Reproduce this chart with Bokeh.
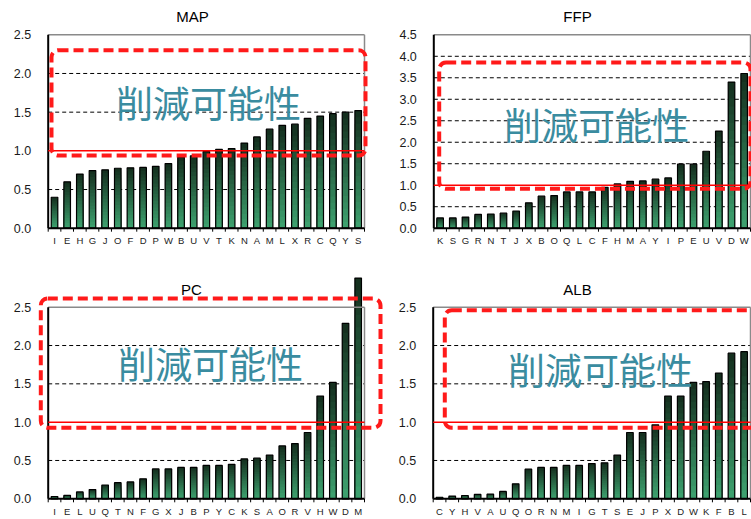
import numpy as np
from bokeh.plotting import figure
from bokeh.models import Range1d
from bokeh.core.properties import value
from bokeh.embed import file_html
from bokeh.resources import INLINE

# ---- data -------------------------------------------------------------
map_cats = list("IEHGJOFDPWBUVTKNAMLXRCQYS")
map_vals = [0.40, 0.60, 0.70, 0.745, 0.755, 0.775, 0.78, 0.785, 0.80, 0.835,
            0.92, 0.935, 0.99, 1.02, 1.03, 1.10, 1.18, 1.28, 1.33, 1.345,
            1.42, 1.45, 1.48, 1.50, 1.52]

ffp_cats = list("KSGRNTJXBOQLCFHMAYIPEUVDW")
ffp_vals = [0.24, 0.24, 0.26, 0.32, 0.33, 0.35, 0.40, 0.59, 0.745, 0.76,
            0.845, 0.845, 0.845, 0.95, 1.03, 1.09, 1.10, 1.14, 1.17, 1.49,
            1.49, 1.79, 2.26, 3.40, 3.60]

pc_cats = list("IELUQTNFGXJBPYCKSAORVHWDM")
pc_vals = [0.03, 0.045, 0.09, 0.12, 0.18, 0.21, 0.22, 0.26, 0.39, 0.39,
           0.41, 0.41, 0.435, 0.435, 0.45, 0.52, 0.53, 0.57, 0.69, 0.72,
           0.865, 1.34, 1.52, 2.29, 2.88]

alb_cats = list("CYHVAUQORNMIGTSEJPXDWKFBL")
alb_vals = [0.02, 0.035, 0.043, 0.057, 0.06, 0.096, 0.196, 0.387, 0.41, 0.41,
            0.435, 0.435, 0.46, 0.47, 0.57, 0.865, 0.865, 0.965, 1.34, 1.34,
            1.52, 1.53, 1.64, 1.90, 1.92]

titles = ["MAP", "FFP", "PC", "ALB"]
y_maxes = [2.5, 4.5, 2.5, 2.5]
threshold = 1.0
note_text = "削減可能性"

# ---- page layout (pixels from the top-left corner) ----------------------
W, H = 751, 519
panels = [
    dict(box=(47.7, 364.0, 34.3, 227.7), title_xy=(192, 16),
         note_xy=(208, 101), note_box=(51, 365, 49.7, 155)),
    dict(box=(433.3, 750.0, 34.3, 227.7), title_xy=(577, 16),
         note_xy=(596, 123), note_box=(438.7, 750, 62, 188.3)),
    dict(box=(47.7, 364.0, 306.7, 498.3), title_xy=(191, 289),
         note_xy=(210, 362), note_box=(40.3, 380, 298, 427.3)),
    dict(box=(432.7, 750.0, 306.7, 498.3), title_xy=(577, 289),
         note_xy=(600, 368), note_box=(444.3, 756, 309.7, 427.3)),
]

BAR_TOP = np.array([0x15, 0x30, 0x1f])
BAR_BOTTOM = np.array([0x3d, 0xa0, 0x6e])
N_SHADES = 18
SANS = value("Liberation Sans")

p = figure(width=W, height=H, output_backend="svg", toolbar_location=None,
           x_range=Range1d(0, W), y_range=Range1d(0, H),
           x_axis_location=None, y_axis_location=None, min_border=0,
           background_fill_color="white", border_fill_color="white")
p.grid.visible = False
p.outline_line_color = None


def py(y):
    """page y (from top) -> default-range y"""
    return H - y


def shade(t):
    c = BAR_BOTTOM + (BAR_TOP - BAR_BOTTOM) * t
    return "#%02x%02x%02x" % tuple(int(round(v)) for v in c)


def draw_panel(idx, cats, vals):
    cfg = panels[idx]
    L, R, T, B = cfg["box"]
    ymax = y_maxes[idx]
    n = len(cats)
    xr, yr = f"x{idx}", f"y{idx}"

    # panel scales: category slot i spans [i, i+1]; value 0..ymax spans B..T
    kx = (R - L) / n
    p.extra_x_ranges[xr] = Range1d(-L / kx, (W - L) / kx)
    ky = (B - T) / ymax
    p.extra_y_ranges[yr] = Range1d(-(H - B) / ky, B / ky)

    ticks = np.round(np.arange(0, ymax + 1e-9, 0.5), 1)
    grid = [t for t in ticks if 0 < t < ymax and t != threshold]

    # dashed grid lines
    p.segment(x0=[0] * len(grid), x1=[n] * len(grid), y0=grid, y1=grid,
              line_color="black", line_width=1, line_dash="4 3",
              x_range_name=xr, y_range_name=yr)

    # bars with a vertical gradient: stacked layers, darkest (tallest) first
    xs = np.arange(n) + 0.5
    v = np.array(vals, dtype=float)
    lefts, rights, tops, colors = [], [], [], []
    for j in range(N_SHADES - 1, -1, -1):
        lefts += list(xs - 0.26)
        rights += list(xs + 0.26)
        tops += list(v * (j + 1) / N_SHADES)
        colors += [shade(j / (N_SHADES - 1))] * n
    p.quad(left=lefts, right=rights, bottom=0, top=tops,
           fill_color=colors, line_color=None,
           x_range_name=xr, y_range_name=yr)
    p.vbar(x=xs, width=0.52, bottom=0, top=v, fill_color=None,
           line_color="black", line_width=1.2,
           x_range_name=xr, y_range_name=yr)

    # plot box: grey top/right, black axes left/bottom
    p.segment(x0=[0, n], x1=[n, n], y0=[ymax, 0], y1=[ymax, ymax],
              line_color="#8a8a8a", line_width=1.5,
              x_range_name=xr, y_range_name=yr)
    p.segment(x0=[0, 0], x1=[0, n], y0=[0, 0], y1=[ymax, 0],
              line_color="black", line_width=2,
              x_range_name=xr, y_range_name=yr)
    bounds = list(range(n + 1))
    p.segment(x0=bounds, x1=bounds, y0=[py(B)] * (n + 1),
              y1=[py(B + 3.5)] * (n + 1), line_color="black", line_width=1,
              x_range_name=xr)

    # threshold line
    p.segment(x0=[0], x1=[n], y0=[threshold], y1=[threshold],
              line_color="red", line_width=1.5,
              x_range_name=xr, y_range_name=yr)

    # tick labels and category labels
    p.text(x=[L - 17] * len(ticks), y=ticks, text=[f"{t:.1f}" for t in ticks],
           text_font=SANS, text_font_size="12.5px", text_color="#1a1a1a",
           text_align="right", text_baseline="middle", y_range_name=yr)
    p.text(x=xs, y=[py(B + 12.5)] * n, text=cats,
           text_font=SANS, text_font_size="9.5px", text_color="#222222",
           text_align="center", text_baseline="middle", x_range_name=xr)

    # title
    tx, ty = cfg["title_xy"]
    p.text(x=[tx], y=[py(ty)], text=[titles[idx]], text_font=SANS,
           text_font_size="15px", text_color="black",
           text_align="center", text_baseline="middle")

    # highlighted region with its note
    bl, br, bt, bb = cfg["note_box"]
    p.quad(left=[bl], right=[br], top=[py(bt)], bottom=[py(bb)],
           fill_color=None, line_color="#ff1a1a", line_width=4,
           line_dash="10 5", border_radius=7)
    nx, ny = cfg["note_xy"]
    p.text(x=[nx], y=[py(ny)], text=[note_text],
           text_font=value("Noto Sans CJK JP"), text_font_size="37px",
           text_color="#3a8ca0", text_align="center", text_baseline="middle")


for i, (c, v) in enumerate([(map_cats, map_vals), (ffp_cats, ffp_vals),
                            (pc_cats, pc_vals), (alb_cats, alb_vals)]):
    draw_panel(i, c, v)

open("out.html", "w").write(file_html(p, INLINE))
